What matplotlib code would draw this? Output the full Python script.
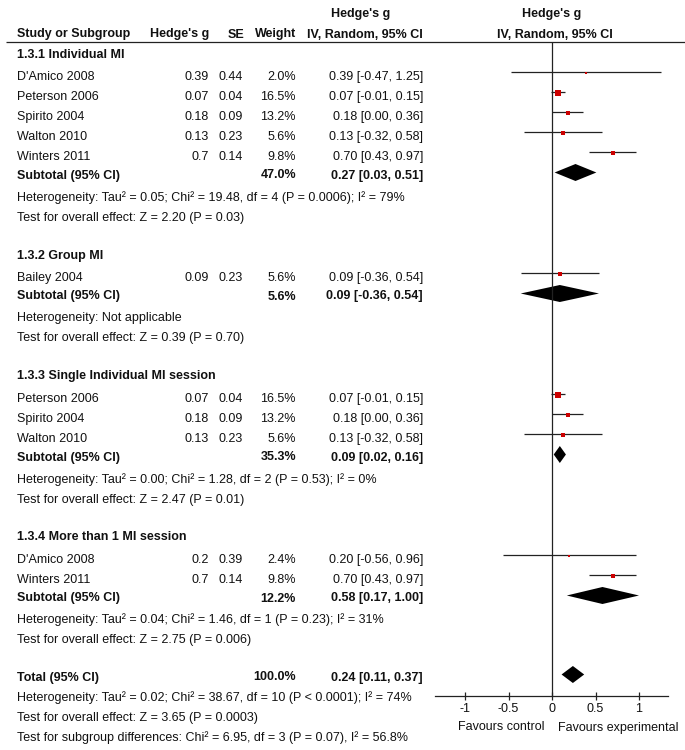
import matplotlib
matplotlib.use("Agg")
import matplotlib.pyplot as plt
from matplotlib import font_manager

# ---- data ----
group_titles = [
    "1.3.1 Individual MI",
    "1.3.2 Group MI",
    "1.3.3 Single Individual MI session",
    "1.3.4 More than 1 MI session",
]
study_group = [0, 0, 0, 0, 0, 1, 2, 2, 2, 3, 3]
study_names = [
    "D'Amico 2008", "Peterson 2006", "Spirito 2004", "Walton 2010", "Winters 2011",
    "Bailey 2004",
    "Peterson 2006", "Spirito 2004", "Walton 2010",
    "D'Amico 2008", "Winters 2011",
]
study_g = [0.39, 0.07, 0.18, 0.13, 0.7, 0.09, 0.07, 0.18, 0.13, 0.2, 0.7]
study_se = [0.44, 0.04, 0.09, 0.23, 0.14, 0.23, 0.04, 0.09, 0.23, 0.39, 0.14]
study_weight = [2.0, 16.5, 13.2, 5.6, 9.8, 5.6, 16.5, 13.2, 5.6, 2.4, 9.8]
study_lo = [-0.47, -0.01, 0.00, -0.32, 0.43, -0.36, -0.01, 0.00, -0.32, -0.56, 0.43]
study_hi = [1.25, 0.15, 0.36, 0.58, 0.97, 0.54, 0.15, 0.36, 0.58, 0.96, 0.97]

subtotal_weight = [47.0, 5.6, 35.3, 12.2]
subtotal_est = [0.27, 0.09, 0.09, 0.58]
subtotal_lo = [0.03, -0.36, 0.02, 0.17]
subtotal_hi = [0.51, 0.54, 0.16, 1.00]
subtotal_het = [
    "Heterogeneity: Tau² = 0.05; Chi² = 19.48, df = 4 (P = 0.0006); I² = 79%",
    "Heterogeneity: Not applicable",
    "Heterogeneity: Tau² = 0.00; Chi² = 1.28, df = 2 (P = 0.53); I² = 0%",
    "Heterogeneity: Tau² = 0.04; Chi² = 1.46, df = 1 (P = 0.23); I² = 31%",
]
subtotal_test = [
    "Test for overall effect: Z = 2.20 (P = 0.03)",
    "Test for overall effect: Z = 0.39 (P = 0.70)",
    "Test for overall effect: Z = 2.47 (P = 0.01)",
    "Test for overall effect: Z = 2.75 (P = 0.006)",
]

total_weight = 100.0
total_est = 0.24
total_lo = 0.11
total_hi = 0.37
total_notes = [
    "Heterogeneity: Tau² = 0.02; Chi² = 38.67, df = 10 (P < 0.0001); I² = 74%",
    "Test for overall effect: Z = 3.65 (P = 0.0003)",
    "Test for subgroup differences: Chi² = 6.95, df = 3 (P = 0.07), I² = 56.8%",
]

x_ticks = [-1, -0.5, 0, 0.5, 1]
x_tick_labels = ["-1", "-0.5", "0", "0.5", "1"]


def pick_font(names):
    for name in names:
        try:
            font_manager.findfont(name, fallback_to_default=False)
            return name
        except ValueError:
            pass
    return "DejaVu Sans"


FONT = pick_font(["Liberation Sans Narrow", "Arial Narrow", "Liberation Sans"])
plt.rcParams["font.family"] = [FONT, "DejaVu Sans"]

FS = 10 if "Narrow" in FONT else 9
TXT = "#111111"
LINE = "#222222"
SQ = "#cc0000"

W, H = 685, 750
ZERO_X, PX_PER_UNIT = 552, 87.0
AX_L, AX_R, AX_T, AX_B = 435, 668, 42, 696
COL_NAME, COL_G, COL_SE, COL_W, COL_CI = 17, 209, 243, 296, 423

fig = plt.figure(figsize=(W / 100, H / 100), dpi=100)
ax = fig.add_axes([0, 0, 1, 1])
ax.set_xlim(0, W)
ax.set_ylim(H, 0)
ax.axis("off")

fx = fig.add_axes([AX_L / W, 1 - AX_B / H, (AX_R - AX_L) / W, (AX_B - AX_T) / H])
fx.set_xlim((AX_L - ZERO_X) / PX_PER_UNIT, (AX_R - ZERO_X) / PX_PER_UNIT)
fx.set_ylim(AX_B, AX_T)
fx.patch.set_alpha(0)
for side in ("left", "top", "right"):
    fx.spines[side].set_visible(False)
fx.spines["bottom"].set_color(LINE)
fx.spines["bottom"].set_linewidth(0.9)
fx.set_yticks([])
fx.set_xticks(x_ticks)
fx.set_xticklabels(x_tick_labels)
fx.tick_params(axis="x", direction="inout", length=6, width=0.9, color=LINE,
               labelsize=FS, labelcolor=TXT, pad=2)
fx.axvline(0, color=LINE, lw=0.9)


def txt(x, y, s, ha="left", bold=False):
    # y is the visual middle of the capitals; draw from the baseline
    ax.text(x, y + 4.5, s, ha=ha, va="baseline", fontsize=FS, color=TXT,
            fontweight="bold" if bold else "normal")


def ci_text(est, lo, hi):
    return f"{est:.2f} [{lo:.2f}, {hi:.2f}]"


def diamond(y, est, lo, hi):
    fx.fill([lo, est, hi, est], [y, y - 8.5, y, y + 8.5], color="black", lw=0)


# header
txt(COL_NAME, 33, "Study or Subgroup", bold=True)
txt(COL_G, 33, "Hedge's g", ha="right", bold=True)
txt(COL_SE + 1, 33, "SE", ha="right", bold=True)
txt(COL_W, 33, "Weight", ha="right", bold=True)
txt(361, 13, "Hedge's g", ha="center", bold=True)
txt(COL_CI, 33, "IV, Random, 95% CI", ha="right", bold=True)
txt(ZERO_X, 13, "Hedge's g", ha="center", bold=True)
txt(ZERO_X + 3, 33, "IV, Random, 95% CI", ha="center", bold=True)
ax.hlines(AX_T, 6, W, color=LINE, lw=0.9)

# rows
y = 53
for gi, title in enumerate(group_titles):
    txt(COL_NAME, y, title, bold=True)
    y += 22.5
    idx = [i for i in range(len(study_names)) if study_group[i] == gi]
    for k, i in enumerate(idx):
        if k > 0:
            y += 20
        txt(COL_NAME, y, study_names[i])
        txt(COL_G, y, f"{study_g[i]:g}", ha="right")
        txt(COL_SE, y, f"{study_se[i]:.2f}", ha="right")
        txt(COL_W, y, f"{study_weight[i]:.1f}%", ha="right")
        txt(COL_CI, y, ci_text(study_g[i], study_lo[i], study_hi[i]), ha="right")
        my = y - 3.5
        fx.hlines(my, study_lo[i], study_hi[i], color=LINE, lw=0.9)
        side_px = 1.0 + study_weight[i] ** 0.5
        fx.plot(study_g[i], my + 0.5, marker="s", ms=side_px * 0.72,
                color=SQ, mec=SQ, mew=0)
    y += 18.5
    txt(COL_NAME, y, "Subtotal (95% CI)", bold=True)
    txt(COL_W, y, f"{subtotal_weight[gi]:.1f}%", ha="right", bold=True)
    txt(COL_CI, y, ci_text(subtotal_est[gi], subtotal_lo[gi], subtotal_hi[gi]),
        ha="right", bold=True)
    diamond(y - 1.5, subtotal_est[gi], subtotal_lo[gi], subtotal_hi[gi])
    y += 22
    txt(COL_NAME, y, subtotal_het[gi])
    y += 20
    txt(COL_NAME, y, subtotal_test[gi])
    y += 38

y -= 1
txt(COL_NAME, y, "Total (95% CI)", bold=True)
txt(COL_W, y, f"{total_weight:.1f}%", ha="right", bold=True)
txt(COL_CI, y, ci_text(total_est, total_lo, total_hi), ha="right", bold=True)
diamond(y - 1.5, total_est, total_lo, total_hi)
y += 21
for note in total_notes:
    txt(COL_NAME, y, note)
    y += 20

txt(545, 726, "Favours control", ha="right")
txt(558, 726, "Favours experimental")

fig.savefig("out.png", dpi=100)
